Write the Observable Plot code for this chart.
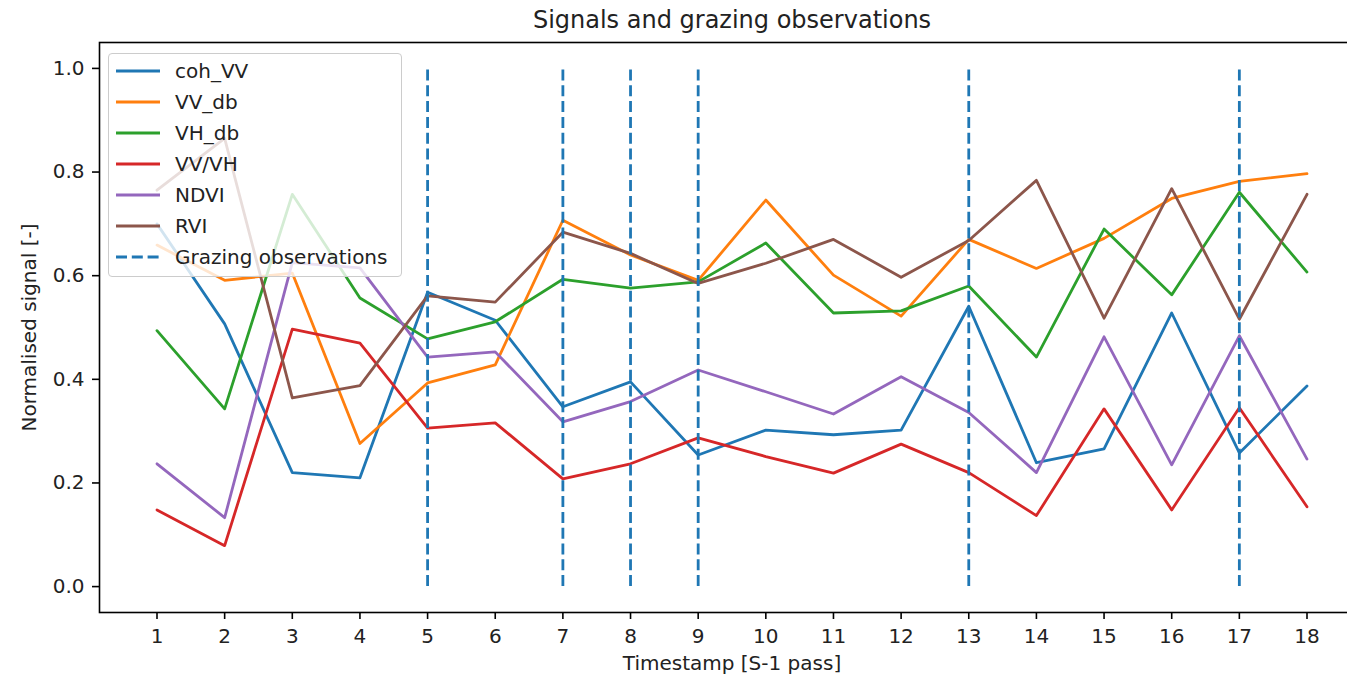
<!DOCTYPE html>
<html>
<head>
<meta charset="utf-8">
<script src="https://cdn.jsdelivr.net/npm/d3@7"></script>
<script src="https://cdn.jsdelivr.net/npm/@observablehq/plot@0.6"></script>
<style>
  html, body { margin: 0; padding: 0; background: white; overflow: hidden; }
  #wrap { position: relative; width: 1347px; height: 676px; overflow: hidden; font-family: "DejaVu Sans", sans-serif; }
  #legend { position: absolute; left: 108px; top: 53px; width: 294px; height: 224px; box-sizing: border-box;
            background: rgba(255,255,255,0.8); border: 1px solid #cccccc; border-radius: 4px; }
  .item { position: absolute; left: 7px; height: 24px; display: flex; align-items: center; font-size: 20px; color: #222; white-space: nowrap; }
  .item svg { margin-right: 15px; }
</style>
</head>
<body>
<div id="wrap"></div>
<script>
const timestamps = [1,2,3,4,5,6,7,8,9,10,11,12,13,14,15,16,17,18];
const seriesNames = ["coh_VV","VV_db","VH_db","VV/VH","NDVI","RVI"];
const seriesColors = ["#1f77b4","#ff7f0e","#2ca02c","#d62728","#9467bd","#8c564b"];
const cohVV = [0.70,0.507,0.22,0.21,0.568,0.514,0.347,0.395,0.254,0.302,0.293,0.302,0.541,0.239,0.266,0.528,0.258,0.387];
const VVdb  = [0.659,0.591,0.605,0.276,0.393,0.428,0.707,0.640,0.591,0.746,0.601,0.522,0.670,0.614,0.672,0.749,0.782,0.797];
const VHdb  = [0.494,0.343,0.757,0.557,0.478,0.511,0.593,0.576,0.588,0.663,0.528,0.532,0.580,0.443,0.690,0.563,0.761,0.607];
const VVVH  = [0.148,0.079,0.497,0.470,0.306,0.316,0.208,0.237,0.287,0.251,0.219,0.275,0.220,0.137,0.343,0.148,0.345,0.154];
const NDVI  = [0.237,0.133,0.625,0.615,0.443,0.453,0.318,0.357,0.418,0.376,0.333,0.405,0.336,0.220,0.482,0.235,0.484,0.246];
const RVI   = [0.765,0.865,0.364,0.388,0.561,0.549,0.684,0.643,0.585,0.624,0.670,0.597,0.668,0.784,0.518,0.768,0.516,0.757];
const grazing = [5,7,8,9,13,17];
const yTicks = [0,0.2,0.4,0.6,0.8,1.0];
const titleText = "Signals and grazing observations";
const xLabel = "Timestamp [S-1 pass]";
const yLabel = "Normalised signal [-]";
const grazingLabel = "Grazing observations";

const allSeries = [cohVV, VVdb, VHdb, VVVH, NDVI, RVI];
const rows = [];
allSeries.forEach((vals, i) => vals.forEach((v, j) => rows.push({series: seriesNames[i], t: timestamps[j], v})));

const font = "DejaVu Sans, sans-serif";
const dash = "11,4.8";
const chart = Plot.plot({
  width: 1370,
  height: 676,
  marginLeft: 99,
  marginRight: 6,
  marginTop: 42,
  marginBottom: 64,
  style: {fontFamily: font, fontSize: "20px", color: "#000", background: "white", maxWidth: "none", overflow: "visible"},
  x: {domain: [0.15, 18.85]},
  y: {domain: [-0.05, 1.05]},
  color: {domain: seriesNames, range: seriesColors},
  marks: [
    Plot.axisX(timestamps, {tickFormat: d => String(d), tickSize: 7, tickPadding: 9, strokeWidth: 1.6, fontSize: 20, label: null, fill: "#222"}),
    Plot.axisY(yTicks, {tickFormat: d3.format(".1f"), tickSize: 7, tickPadding: 8, strokeWidth: 1.6, fontSize: 20, label: null, fill: "#222"}),
    Plot.line(rows, {x: "t", y: "v", z: "series", stroke: "series", strokeWidth: 2.8}),
    Plot.ruleX(grazing, {x: d => d, y1: 0, y2: 1, stroke: "#1f77b4", strokeWidth: 2.8, strokeDasharray: dash}),
    Plot.frame({stroke: "#000", strokeWidth: 1.6}),
    Plot.text([titleText], {frameAnchor: "top", lineAnchor: "middle", dy: -22, fontSize: 24, fill: "#222"}),
    Plot.text([xLabel], {frameAnchor: "bottom", lineAnchor: "middle", dy: 51, fontSize: 20, fill: "#222"}),
    Plot.text([yLabel], {frameAnchor: "left", textAnchor: "middle", lineAnchor: "middle", rotate: -90, dx: -70, fontSize: 20, fill: "#222"})
  ]
});
const wrap = document.getElementById("wrap");
wrap.appendChild(chart);

// legend
const legend = document.createElement("div");
legend.id = "legend";
const entries = seriesNames.map((n, i) => ({label: n, color: seriesColors[i], dash: null}))
  .concat([{label: grazingLabel, color: "#1f77b4", dash}]);
entries.forEach((e, i) => {
  const it = document.createElement("div");
  it.className = "item";
  it.style.top = (5 + i * 31) + "px";
  it.innerHTML = `<svg width="44" height="6"><line x1="0" y1="3" x2="44" y2="3" stroke="${e.color}" stroke-width="2.8" ${e.dash ? `stroke-dasharray="${e.dash}"` : ""}/></svg><span></span>`;
  it.querySelector("span").textContent = e.label;
  legend.appendChild(it);
});
wrap.appendChild(legend);
</script>
</body>
</html>
